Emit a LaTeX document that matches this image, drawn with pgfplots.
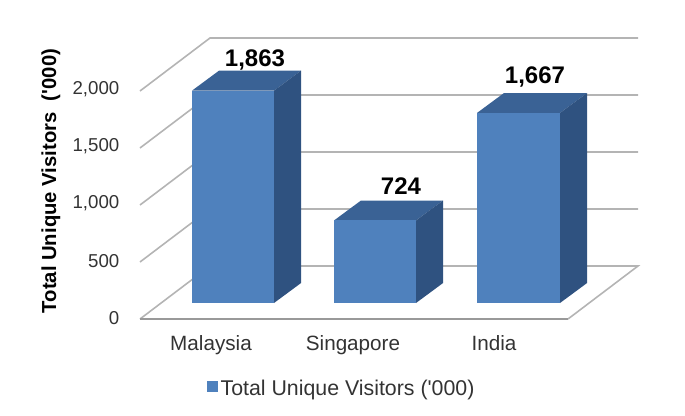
\documentclass[border=0pt]{standalone}
\usepackage{fontspec}
\setmainfont{Liberation Sans}[Ligatures=TeXOff]
\usepackage{pgfplots}
\pgfplotsset{compat=1.18}
\definecolor{front}{HTML}{4F81BD}
\definecolor{topf}{HTML}{3A6295}
\definecolor{sidef}{HTML}{2F5280}
\definecolor{gridc}{HTML}{B4B4B4}
\begin{document}
\begin{tikzpicture}
\path[use as bounding box] (0,0) rectangle (513.75pt,311.25pt);
\begin{axis}[
  at={(105pt,72pt)}, anchor=south west,
  scale only axis, width=321pt, height=171pt,
  xmin=0, xmax=428, ymin=0, ymax=2000,
  clip=false,
  axis line style={draw=none},
  major tick length=0pt,
  tick style={draw=none},
  xtick={71,213,354},
  xticklabels={Malaysia,Singapore,India},
  ytick={0,500,1000,1500,2000},
  xtick pos=bottom, ytick pos=left,
  /pgf/number format/1000 sep={,},
  /pgf/number format/assume math mode=true,
  tick label style={font=\fontsize{14}{16}\selectfont, text=black!80},
  x tick label style={font=\fontsize{15.5}{17}\selectfont, yshift=-8.5pt},
  y tick label style={xshift=-12pt, yshift=1pt},
  ylabel={\textbf{Total Unique Visitors \ ('000)}},
  every axis y label/.style={at={(axis description cs:-0.208,0.605)}, rotate=90, anchor=center, font=\fontsize{15.2}{17}\selectfont},
  legend style={draw=none, fill=none, at={(axis description cs:0.472,-0.307)}, anchor=center, font=\fontsize{16}{18}\selectfont, text=black!80, legend cell align=left, inner sep=0pt},
  legend image code/.code={\fill[front, draw=none] (0pt,-14.5pt) rectangle (8.25pt,-6.25pt);},
]
% walls and floor
\addplot[gridc, line width=1.2pt, forget plot] coordinates {(0,0) (70,465) (498,465) (428,0)};
\addplot[gridc, line width=1.2pt, forget plot] coordinates {(0,500) (70,965) (498,965)};
\addplot[gridc, line width=1.2pt, forget plot] coordinates {(0,1000) (70,1465) (498,1465)};
\addplot[gridc, line width=1.2pt, forget plot] coordinates {(0,1500) (70,1965) (498,1965)};
\addplot[gridc, line width=1.2pt, forget plot] coordinates {(0,2000) (70,2465) (498,2465)};
\addplot[gridc!85!black, line width=1.6pt, forget plot] coordinates {(0,0) (428,0)};
% Malaysia
\addplot[fill=topf, draw=none, yshift=12pt, forget plot] coordinates {(52,1863) (134,1863) (161,2038) (79,2038)} -- cycle;
\addplot[fill=sidef, draw=none, yshift=12pt, forget plot] coordinates {(134,0) (161,175) (161,2038) (134,1863)} -- cycle;
\addplot[fill=front, draw=none, yshift=12pt] coordinates {(52,0) (134,0) (134,1863) (52,1863)} -- cycle;
\addlegendentry{Total Unique Visitors ('000)}
% Singapore
\addplot[fill=topf, draw=none, yshift=12pt, forget plot] coordinates {(194,724) (276,724) (303,899) (221,899)} -- cycle;
\addplot[fill=sidef, draw=none, yshift=12pt, forget plot] coordinates {(276,0) (303,175) (303,899) (276,724)} -- cycle;
\addplot[fill=front, draw=none, yshift=12pt, forget plot] coordinates {(194,0) (276,0) (276,724) (194,724)} -- cycle;
% India
\addplot[fill=topf, draw=none, yshift=12pt, forget plot] coordinates {(337,1667) (420,1667) (447,1842) (364,1842)} -- cycle;
\addplot[fill=sidef, draw=none, yshift=12pt, forget plot] coordinates {(420,0) (447,175) (447,1842) (420,1667)} -- cycle;
\addplot[fill=front, draw=none, yshift=12pt, forget plot] coordinates {(337,0) (420,0) (420,1667) (337,1667)} -- cycle;
% data labels
\node[font=\fontsize{18}{20}\selectfont\bfseries] at (axis cs:115,2268) {1,863};
\node[font=\fontsize{18}{20}\selectfont\bfseries] at (axis cs:261,1168) {724};
\node[font=\fontsize{18}{20}\selectfont\bfseries] at (axis cs:395,2122) {1,667};
\end{axis}
\end{tikzpicture}
\end{document}
